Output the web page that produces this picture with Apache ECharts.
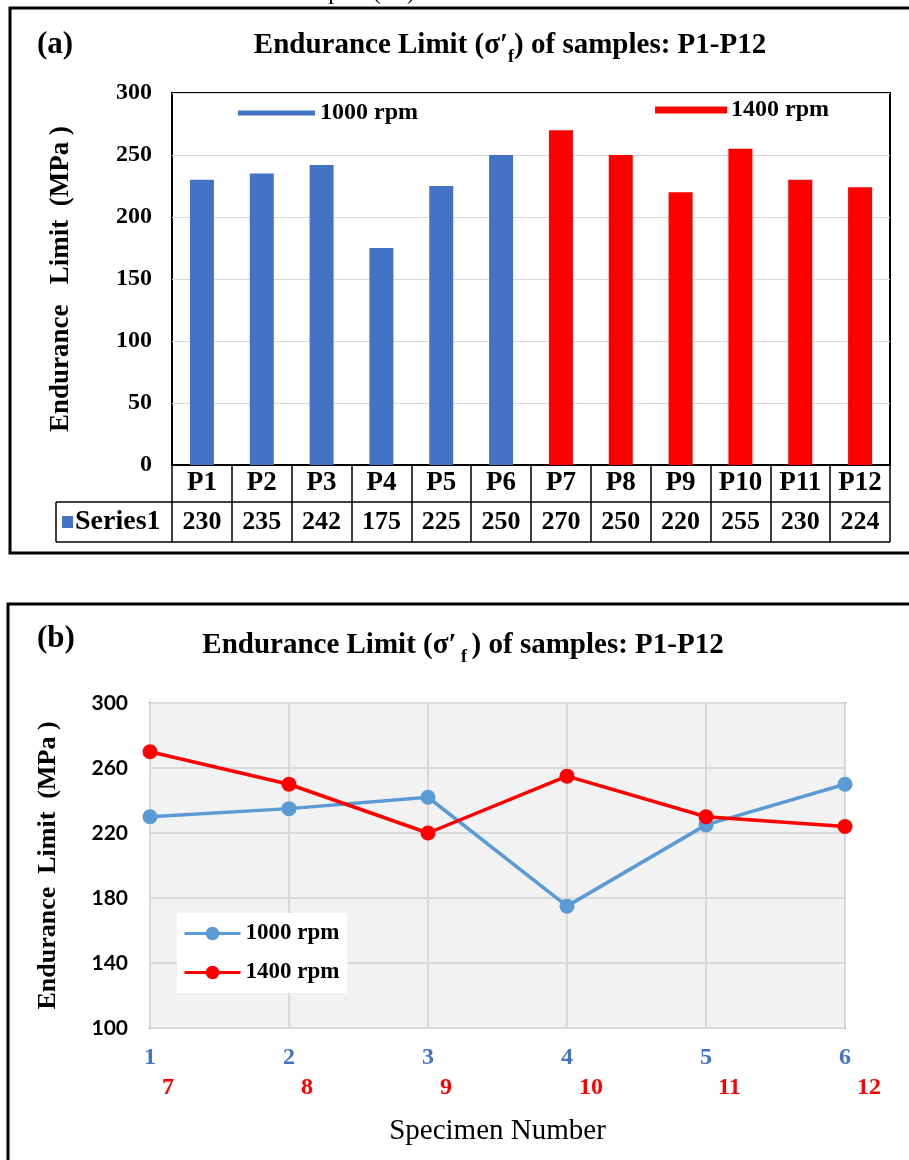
<!DOCTYPE html>
<html>
<head>
<meta charset="utf-8">
<script src="https://cdn.jsdelivr.net/npm/echarts@6/dist/echarts.min.js"></script>
<style>html,body{margin:0;padding:0;background:#fff;}#c{width:909px;height:1160px;}</style>
</head>
<body>
<div id="c"></div>
<script>
// ---- data ----
const samples = ['P1','P2','P3','P4','P5','P6','P7','P8','P9','P10','P11','P12'];
const rpm1000 = [230, 235, 242, 175, 225, 250];
const rpm1400 = [270, 250, 220, 255, 230, 224];
const specA = ['1','2','3','4','5','6'];
const specB = ['7','8','9','10','11','12'];
const yTicksA = {min: 0, max: 300, interval: 50};
const yTicksB = {min: 100, max: 300, interval: 40};

// ---- derived ----
const allValues = rpm1000.concat(rpm1400);
const blueBars = rpm1000.concat(rpm1400.map(() => '-'));
const redBars = rpm1000.map(() => '-').concat(rpm1400);

const SERIF = '"Liberation Serif", "Times New Roman", serif';
const SANS = 'Lato, "Open Sans", sans-serif';
const BLUE = '#4472C4', LBLUE = '#5B9BD5', RED = '#FF0000';

const chart = echarts.init(document.getElementById('c'), null, {renderer: 'canvas'});

function titleText(x, y, text) {
  return {
    type: 'text', x: x, y: y,
    style: {
      text: text, align: 'center', verticalAlign: 'middle',
      rich: {
        a: {fontFamily: SERIF, fontWeight: 'bold', fontSize: 29, lineHeight: 40, verticalAlign: 'middle', fill: '#000'},
        s: {fontFamily: SERIF, fontWeight: 'bold', fontSize: 18, lineHeight: 40, verticalAlign: 'bottom', fill: '#000'}
      }
    }
  };
}

const option = {
  animation: false,
  backgroundColor: '#fff',
  grid: [
    {left: 172, top: 93, width: 718, height: 372, show: true, borderColor: '#000', borderWidth: 2, backgroundColor: '#fff'},
    {left: 150, top: 703, width: 695, height: 325, show: true, borderColor: '#000', borderWidth: 1.5, backgroundColor: '#F2F2F2'}
  ],
  xAxis: [
    {type: 'category', gridIndex: 0, data: samples, position: 'bottom',
     axisLine: {show: true, lineStyle: {color: '#000', width: 2}},
     axisTick: {show: true, length: 77, lineStyle: {color: '#000', width: 1.5}},
     axisLabel: {margin: 5, color: '#000', fontFamily: SERIF, fontWeight: 'bold', fontSize: 27, interval: 0},
     splitLine: {show: false}},
    {type: 'category', gridIndex: 0, data: allValues.map(String), position: 'bottom', offset: 37,
     axisLine: {show: true, lineStyle: {color: '#000', width: 1.5}},
     axisTick: {show: false},
     axisLabel: {margin: 7, color: '#000', fontFamily: SERIF, fontWeight: 'bold', fontSize: 26, interval: 0},
     splitLine: {show: false}},
    {type: 'category', gridIndex: 1, data: specA, boundaryGap: false, position: 'bottom',
     axisLine: {show: false}, axisTick: {show: false},
     axisLabel: {margin: 18, color: BLUE, fontFamily: SERIF, fontWeight: 'bold', fontSize: 24, interval: 0},
     splitLine: {show: true, interval: 0, lineStyle: {color: '#D9D9D9', width: 2}},
     name: 'Specimen Number', nameLocation: 'middle', nameGap: 89,
     nameTextStyle: {color: '#000', fontFamily: SERIF, fontSize: 29}},
    {type: 'category', gridIndex: 1, data: specB, boundaryGap: false, position: 'bottom',
     axisLine: {show: false}, axisTick: {show: false},
     axisLabel: {margin: 48, color: RED, fontFamily: SERIF, fontWeight: 'bold', fontSize: 24, interval: 0, align: 'left', padding: [0, 0, 0, 12]},
     splitLine: {show: false}}
  ],
  yAxis: [
    {type: 'value', gridIndex: 0, min: yTicksA.min, max: yTicksA.max, interval: yTicksA.interval,
     axisLine: {show: false}, axisTick: {show: false},
     axisLabel: {margin: 20, color: '#000', fontFamily: SERIF, fontWeight: 'bold', fontSize: 24},
     splitLine: {show: true, lineStyle: {color: '#D9D9D9', width: 1}},
     name: 'Endurance   Limit  (MPa )', nameLocation: 'middle', nameGap: 97, nameRotate: 90,
     nameTextStyle: {color: '#000', fontFamily: SERIF, fontWeight: 'bold', fontSize: 27}},
    {type: 'value', gridIndex: 1, min: yTicksB.min, max: yTicksB.max, interval: yTicksB.interval,
     axisLine: {show: false}, axisTick: {show: false},
     axisLabel: {margin: 22, color: '#000', fontFamily: SANS, fontWeight: 'bold', fontSize: 21},
     splitLine: {show: true, lineStyle: {color: '#D9D9D9', width: 2}},
     name: 'Endurance  Limit  (MPa )', nameLocation: 'middle', nameGap: 89, nameRotate: 90,
     nameTextStyle: {color: '#000', fontFamily: SERIF, fontWeight: 'bold', fontSize: 26}}
  ],
  legend: [
    {data: ['a:1000 rpm'], left: 233, top: 96, icon: 'rect', itemWidth: 77, itemHeight: 5, itemGap: 10,
     formatter: n => n.replace(/^a:/, ''),
     textStyle: {color: '#000', fontFamily: SERIF, fontWeight: 'bold', fontSize: 24}},
    {data: ['a:1400 rpm'], left: 650, top: 93, icon: 'rect', itemWidth: 70, itemHeight: 5,
     formatter: n => n.replace(/^a:/, ''),
     textStyle: {color: '#000', fontFamily: SERIF, fontWeight: 'bold', fontSize: 24}},
    {data: ['1000 rpm', '1400 rpm'], left: 177, top: 913, orient: 'vertical', backgroundColor: '#fff',
     padding: [9, 8, 9, 6], itemGap: 16, itemWidth: 56, itemHeight: 17,
     lineStyle: {width: 3},
     textStyle: {color: '#000', fontFamily: SERIF, fontWeight: 'bold', fontSize: 23}}
  ],
  series: [
    {name: 'a:1000 rpm', type: 'bar', xAxisIndex: 0, yAxisIndex: 0, data: blueBars, barWidth: 24, barGap: '-100%',
     itemStyle: {color: BLUE}},
    {name: 'a:1400 rpm', type: 'bar', xAxisIndex: 0, yAxisIndex: 0, data: redBars, barWidth: 24, barGap: '-100%',
     itemStyle: {color: RED, borderColor: RED, borderWidth: 2.5}},
    {name: '1000 rpm', type: 'line', xAxisIndex: 2, yAxisIndex: 1, data: rpm1000,
     symbol: 'circle', symbolSize: 15, color: LBLUE, lineStyle: {color: LBLUE, width: 3.5}, itemStyle: {color: LBLUE}},
    {name: '1400 rpm', type: 'line', xAxisIndex: 2, yAxisIndex: 1, data: rpm1400,
     symbol: 'circle', symbolSize: 15, color: RED, lineStyle: {color: RED, width: 3.5}, itemStyle: {color: RED}}
  ],
  graphic: [
    // partially visible caption above
    {type: 'text', x: 415, y: 5, style: {text: 'Fig. 9: Endurance limit of as welded samples (σ′f)', align: 'right', verticalAlign: 'bottom', font: '24px ' + SERIF, fill: '#000'}},
    // panel frames
    {type: 'rect', shape: {x: 10, y: 8, width: 905, height: 545}, style: {fill: 'none', stroke: '#000', lineWidth: 3}},
    {type: 'rect', shape: {x: 8, y: 604, width: 907, height: 570}, style: {fill: 'none', stroke: '#000', lineWidth: 3}},
    // panel labels and titles
    {type: 'text', x: 37, y: 45, style: {text: '(a)', verticalAlign: 'middle', font: 'bold 31px ' + SERIF, fill: '#000'}},
    {type: 'text', x: 37, y: 639, style: {text: '(b)', verticalAlign: 'middle', font: 'bold 31px ' + SERIF, fill: '#000'}},
    titleText(510, 46, '{a|Endurance Limit (σ′}{s|f}{a|) of samples: P1-P12}'),
    titleText(463, 646, '{a|Endurance Limit (σ′}{s| f }{a|) of samples: P1-P12}'),
    // data table extras
    {type: 'line', shape: {x1: 56, y1: 542, x2: 890, y2: 542}, style: {stroke: '#000', lineWidth: 1.5}},
    {type: 'line', shape: {x1: 56, y1: 502, x2: 172, y2: 502}, style: {stroke: '#000', lineWidth: 1.5}},
    {type: 'line', shape: {x1: 56, y1: 502, x2: 56, y2: 542}, style: {stroke: '#000', lineWidth: 1.5}},
    {type: 'rect', shape: {x: 62, y: 516, width: 11, height: 12}, style: {fill: BLUE}},
    {type: 'text', x: 75, y: 522, style: {text: 'Series1', verticalAlign: 'middle', font: 'bold 28px ' + SERIF, fill: '#000'}}
  ]
};
chart.setOption(option);
</script>
</body>
</html>
